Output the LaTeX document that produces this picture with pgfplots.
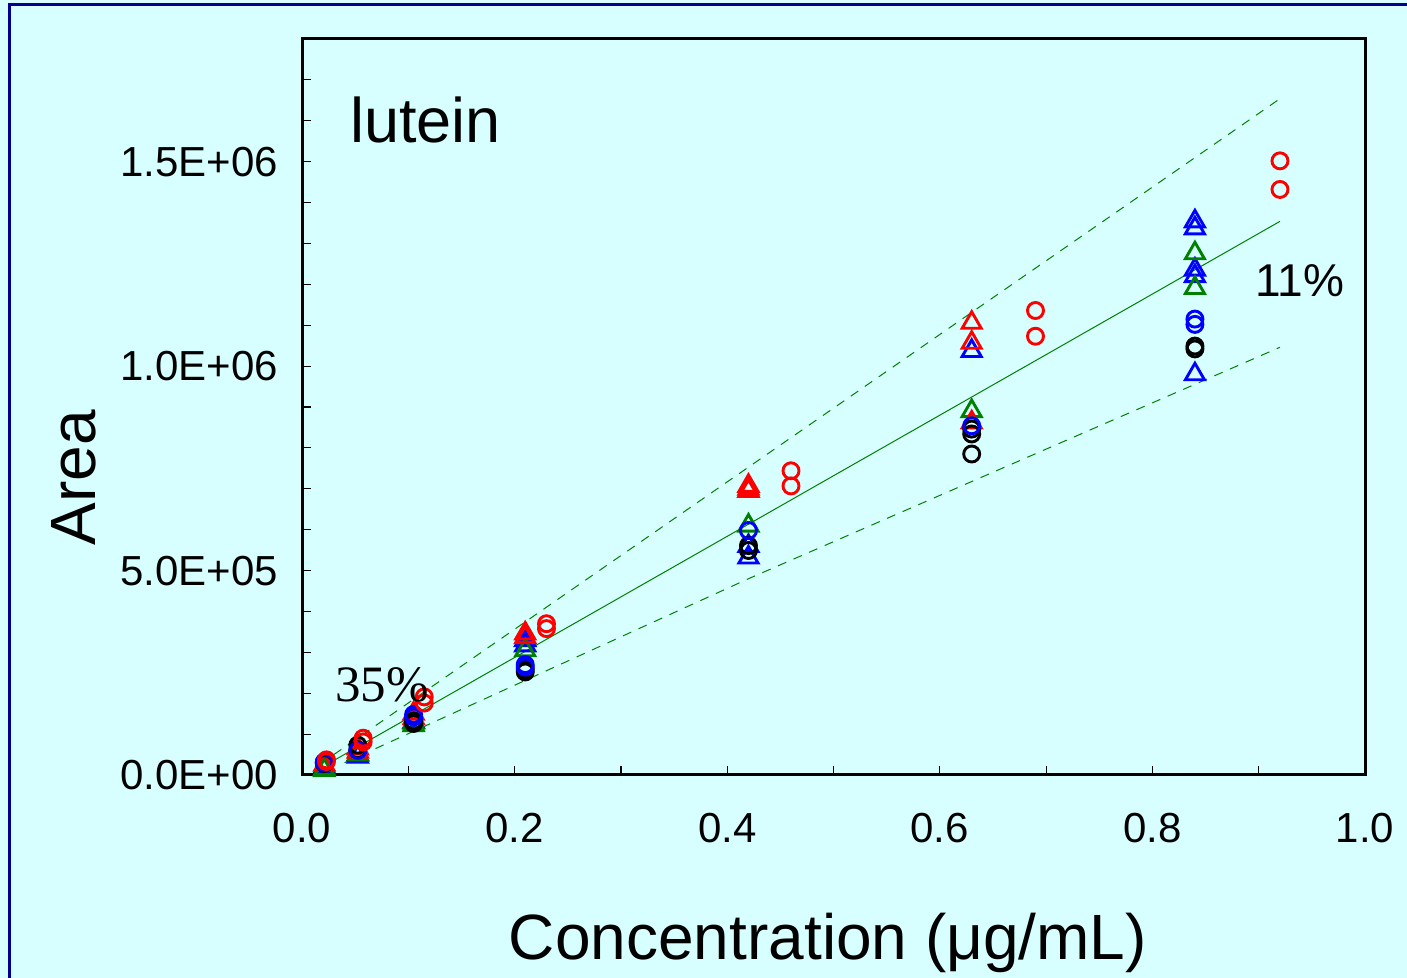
\documentclass[border=0pt]{standalone}
\usepackage{fontspec}
\setmainfont{Liberation Sans}
\newfontfamily\seriffont{Liberation Serif}
\usepackage{pgfplots}
\pgfplotsset{compat=1.18}
\definecolor{bgcyan}{RGB}{215,255,255}
\definecolor{navyb}{RGB}{0,0,140}
\definecolor{dgreen}{RGB}{0,128,0}
\begin{document}
\begin{tikzpicture}
\path[fill=bgcyan] (0,0) rectangle (703.5pt,489pt);
\path[use as bounding box] (0,0) rectangle (703.5pt,489pt);
\draw[navyb, line width=1.5pt] (4.5pt,-5pt) -- (4.5pt,486.75pt) -- (710pt,486.75pt);
\begin{axis}[
  at={(151pt,101.5pt)}, anchor=south west,
  scale only axis, width=531.5pt, height=368pt,
  xmin=0, xmax=1, ymin=0, ymax=1800000,
  clip=false,
  axis line style={line width=1.5pt},
  xtick={0,0.2,0.4,0.6,0.8,1.0},
  xticklabels={0.0,0.2,0.4,0.6,0.8,1.0},
  minor xtick={0.1,0.3,0.5,0.7,0.9},
  ytick={0,500000,1000000,1500000},
  yticklabels={0.0E+00,5.0E+05,1.0E+06,1.5E+06},
  minor ytick={100000,200000,300000,400000,600000,700000,800000,900000,1100000,1200000,1300000,1400000,1600000,1700000},
  tick align=inside, xtick pos=lower, ytick pos=left,
  major tick length=4.5pt, minor tick length=4.5pt,
  tick style={line width=0.6pt, black},
  ticklabel style={font=\fontsize{21}{25}\selectfont},
  xticklabel style={yshift=-15.5pt},
  yticklabel style={xshift=-8.6pt},
  scaled ticks=false,
]
% fitted line and bounds
\addplot[dgreen, line width=0.5pt] coordinates {(0.031,37000) (0.92,1354000)};
\addplot[dgreen, line width=0.5pt, dash pattern=on 4.5pt off 4pt] coordinates {(0.03,50000) (0.92,1654000)};
\addplot[dgreen, line width=0.5pt, dash pattern=on 4.5pt off 4pt] coordinates {(0.04,30000) (0.42,480000) (0.92,1046000)};
% blue triangles
\addplot[only marks, mark=triangle, mark size=5.5pt, blue, mark options={line width=1.45pt}] coordinates {
 (0.021,20000) (0.0525,45000) (0.0525,50000) (0.105,130000) (0.21,317000) (0.21,330000)
 (0.42,532000) (0.42,560000) (0.63,1037000)
 (0.84,1354000) (0.84,1337000) (0.84,1236000) (0.84,1220000) (0.84,980000)};
% green triangles
\addplot[only marks, mark=triangle, mark size=5.5pt, dgreen, mark options={line width=1.45pt}] coordinates {
 (0.021,15000) (0.021,12000) (0.0525,50000) (0.105,122000) (0.105,128000) (0.21,305000)
 (0.42,610000) (0.63,890000) (0.84,1276000) (0.84,1191000)};
% red triangles
\addplot[only marks, mark=triangle, mark size=5.5pt, red, mark options={line width=1.45pt}] coordinates {
 (0.021,25000) (0.0525,57000) (0.0525,65000) (0.105,139000) (0.105,150000) (0.21,346000) (0.21,337000)
 (0.42,707000) (0.42,695000) (0.42,700000) (0.63,1106000) (0.63,1057000) (0.63,862000)};
% black circles
\addplot[only marks, mark=o, mark size=4pt, black, mark options={line width=1.45pt}] coordinates {
 (0.021,30000) (0.021,28000) (0.0525,73000) (0.0525,62000) (0.105,126000) (0.105,132000)
 (0.21,252000) (0.21,258000) (0.42,561000) (0.42,549000)
 (0.63,846000) (0.63,834000) (0.63,785000) (0.84,1049000) (0.84,1042000)};
% blue circles
\addplot[only marks, mark=o, mark size=4pt, blue, mark options={line width=1.45pt}] coordinates {
 (0.021,32000) (0.021,30000) (0.0525,60000) (0.105,142000) (0.105,148000)
 (0.21,264000) (0.21,270000) (0.42,598000) (0.63,854000) (0.84,1115000) (0.84,1102000)};
% red circles
\addplot[only marks, mark=o, mark size=4pt, red, mark options={line width=1.45pt}] coordinates {
 (0.023,37000) (0.023,33000) (0.0575,90000) (0.0575,81000) (0.115,191000) (0.115,176000)
 (0.23,370000) (0.23,358000) (0.46,744000) (0.46,707000) (0.69,1136000) (0.69,1073000)
 (0.92,1502000) (0.92,1432000)};
\end{axis}
\node[anchor=base west, inner sep=0, font=\fontsize{31.5}{36}\selectfont] at (175pt,417.5pt) {lutein};
\node[anchor=base west, inner sep=0, font=\fontsize{23}{27}\selectfont] at (627.5pt,340.5pt) {11\%};
\node[anchor=base west, inner sep=0, font=\seriffont\fontsize{25.5}{30}\selectfont] at (167.5pt,138pt) {35\%};
\node[anchor=base, inner sep=0, font=\fontsize{32}{38}\selectfont] at (414pt,9pt) {Concentration (μg/mL)};
\node[rotate=90, anchor=base, inner sep=0, font=\fontsize{32}{38}\selectfont] at (47.5pt,250pt) {Area};
\end{tikzpicture}
\end{document}
